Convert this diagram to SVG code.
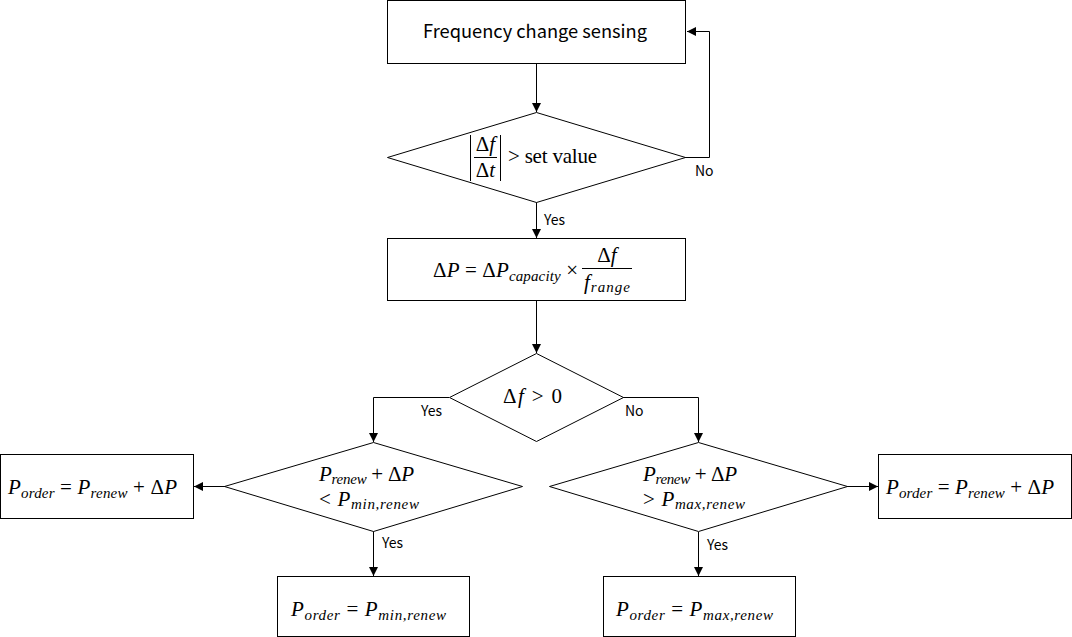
<svg xmlns="http://www.w3.org/2000/svg" width="1072" height="637" viewBox="0 0 1072 637">
<style>
.box{fill:#fff;stroke:#000;stroke-width:1}
.ln{fill:none;stroke:#000;stroke-width:1}
.lbl{font-family:"Noto Sans CJK KR","Noto Sans",sans-serif;font-size:14px;fill:#000}
.t{font-family:"Noto Sans CJK KR","Noto Sans",sans-serif;font-size:18px;fill:#000}
.m{font-family:"Liberation Serif","DejaVu Serif",serif;font-size:21px;fill:#000}
.i{font-style:italic}
.s{font-size:15px;font-style:italic}
</style>
<defs>
<marker id="ah" viewBox="0 0 10 10" refX="10" refY="5" markerWidth="9" markerHeight="9" markerUnits="userSpaceOnUse" orient="auto">
<path d="M0,0 L10,5 L0,10 z" fill="#000"/>
</marker>
</defs>
<rect width="1072" height="637" fill="#fff"/>
<g id="connectors">
<path class="ln" d="M536.5,63.5 V112" marker-end="url(#ah)"/>
<path class="ln" d="M685,157.5 H709.5 V31.5 H687" marker-end="url(#ah)"/>
<path class="ln" d="M536.5,202 V238" marker-end="url(#ah)"/>
<path class="ln" d="M536.5,300.5 V353" marker-end="url(#ah)"/>
<path class="ln" d="M449,397.5 H373.5 V442" marker-end="url(#ah)"/>
<path class="ln" d="M623,397.5 H698.5 V442" marker-end="url(#ah)"/>
<path class="ln" d="M225,486.5 H194" marker-end="url(#ah)"/>
<path class="ln" d="M373.5,531 V576" marker-end="url(#ah)"/>
<path class="ln" d="M847,486.5 H878" marker-end="url(#ah)"/>
<path class="ln" d="M698.5,532 V576" marker-end="url(#ah)"/>
<text class="lbl" x="695" y="176">No</text>
<text class="lbl" x="544" y="225">Yes</text>
<text class="lbl" x="421" y="416">Yes</text>
<text class="lbl" x="625" y="416">No</text>
<text class="lbl" x="382" y="548">Yes</text>
<text class="lbl" x="707" y="550">Yes</text>
</g>
<g id="n1">
<rect class="box" x="387.5" y="0.5" width="298" height="63"/>
<text class="t" x="535" y="38" text-anchor="middle" textLength="224" lengthAdjust="spacingAndGlyphs">Frequency change sensing</text>
</g>
<g id="n2">
<polygon class="box" points="536.5,112.5 685.5,157.5 536.5,202.5 387.5,157.5"/>
<path class="ln" d="M470.5,135 V181 M500.5,135 V181 M474,157.5 H497"/>
<text class="m" x="485.5" y="151" text-anchor="middle">Δ<tspan class="i">f</tspan></text>
<text class="m" x="485.5" y="177" text-anchor="middle">Δ<tspan class="i">t</tspan></text>
<text class="m" x="508" y="163" textLength="89">&gt; set value</text>
</g>
<g id="n3">
<rect class="box" x="387.5" y="238.5" width="298" height="62"/>
<text class="m" x="433" y="277" textLength="145">Δ<tspan class="i">P</tspan> = Δ<tspan class="i">P</tspan><tspan class="s" dy="4">capacity</tspan><tspan dy="-4"> ×</tspan></text>
<text class="m" x="607" y="262" text-anchor="middle">Δ<tspan class="i">f</tspan></text>
<path class="ln" d="M582,268.5 H632"/>
<text class="m" x="584" y="289" textLength="46"><tspan class="i">f</tspan><tspan class="s" dy="3">range</tspan></text>
</g>
<g id="n4">
<polygon class="box" points="536.5,353.5 623.5,397.5 536.5,441.5 449.5,397.5"/>
<text class="m" x="503" y="403" textLength="59">Δ<tspan class="i">f</tspan> &gt; 0</text>
</g>
<g id="n5">
<polygon class="box" points="373.5,442.5 522.5,486.5 373.5,531.5 224.5,486.5"/>
<text class="m" x="319" y="481" textLength="95"><tspan class="i">P</tspan><tspan class="s" dy="3">renew</tspan><tspan dy="-3"> + Δ</tspan><tspan class="i">P</tspan></text>
<text class="m" x="319" y="506" textLength="100">&lt; <tspan class="i">P</tspan><tspan class="s" dy="3">min,renew</tspan></text>
</g>
<g id="n6">
<polygon class="box" points="698.5,442.5 847.5,486.5 698.5,531.5 549.5,486.5"/>
<text class="m" x="643" y="481" textLength="94"><tspan class="i">P</tspan><tspan class="s" dy="3">renew</tspan><tspan dy="-3"> + Δ</tspan><tspan class="i">P</tspan></text>
<text class="m" x="643" y="506" textLength="102">&gt; <tspan class="i">P</tspan><tspan class="s" dy="3">max,renew</tspan></text>
</g>
<g id="n7">
<rect class="box" x="0.5" y="454.5" width="193" height="64"/>
<text class="m" x="8" y="494" textLength="169"><tspan class="i">P</tspan><tspan class="s" dy="4">order</tspan><tspan dy="-4"> = </tspan><tspan class="i">P</tspan><tspan class="s" dy="4">renew</tspan><tspan dy="-4"> + Δ</tspan><tspan class="i">P</tspan></text>
</g>
<g id="n8">
<rect class="box" x="878.5" y="454.5" width="193" height="64"/>
<text class="m" x="886" y="494" textLength="168"><tspan class="i">P</tspan><tspan class="s" dy="4">order</tspan><tspan dy="-4"> = </tspan><tspan class="i">P</tspan><tspan class="s" dy="4">renew</tspan><tspan dy="-4"> + Δ</tspan><tspan class="i">P</tspan></text>
</g>
<g id="n9">
<rect class="box" x="277.5" y="576.5" width="192" height="60"/>
<text class="m" x="291" y="616" textLength="155"><tspan class="i">P</tspan><tspan class="s" dy="4">order</tspan><tspan dy="-4"> = </tspan><tspan class="i">P</tspan><tspan class="s" dy="4">min,renew</tspan></text>
</g>
<g id="n10">
<rect class="box" x="603.5" y="576.5" width="192" height="60"/>
<text class="m" x="616" y="616" textLength="157"><tspan class="i">P</tspan><tspan class="s" dy="4">order</tspan><tspan dy="-4"> = </tspan><tspan class="i">P</tspan><tspan class="s" dy="4">max,renew</tspan></text>
</g>
</svg>
